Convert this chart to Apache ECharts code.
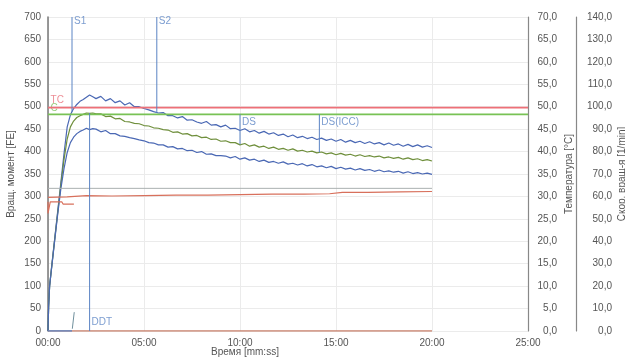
<!DOCTYPE html>
<html><head><meta charset="utf-8">
<script src="https://cdn.jsdelivr.net/npm/echarts@6/dist/echarts.min.js"></script>
<style>html,body{margin:0;padding:0;background:#fff}#c{width:625px;height:360px}</style>
</head><body><div id="c"></div>
<script>
// time in seconds
const times = [0,2,5,10,20,30,40,50,60,70,80,90,100,110,120,130,140,
150,165,180,195,210,225,240,255,270,285,300,315,330,345,360,375,390,405,420,435,450,465,480,495,510,525,540,555,570,585,600,615,630,645,660,675,690,705,720,735,750,765,780,795,810,825,840,855,870,885,900,915,930,945,960,975,990,1005,1020,1035,1050,1065,1080,1095,1110,1125,1140,1155,1170,1185,1200];
const torqueUpper = [0,55,100,135,200,265,330,395,455,482,496,505,512,516,521,526,522,
518,523,513,518,509,513,504,509,500,500,496,493,489,486,487,480,480,475,478,470,471,466,463,467,459,460,455,459,451,452,447,451,444,447,441,445,439,442,436,439,433,437,431,434,429,432,427,430,425,428,423,427,421,425,420,423,418,422,417,420,415,419,414,417,412,416,411,415,410,413,409];
const torqueMid = [0,55,100,133,198,262,325,382,428,455,468,476,480,483,486,485,486,
484,484,478,479,473,474,467,466,463,462,458,457,453,452,449,448,443,444,439,440,435,436,431,432,427,428,423,424,420,420,415,418,412,415,410,412,407,410,405,407,403,406,401,403,399,401,397,399,395,397,393,396,392,394,390,393,389,391,388,390,386,388,385,387,383,386,382,384,380,382,379];
const torqueLower = [0,55,100,132,196,258,316,362,398,420,432,440,445,448,452,449,451,
450,444,447,440,440,435,434,431,429,426,424,420,419,415,415,410,411,406,407,402,403,398,400,394,395,391,391,390,386,389,383,386,381,383,378,381,376,378,374,377,372,374,370,373,368,371,366,368,364,367,362,365,361,363,359,362,358,360,356,359,355,357,354,356,352,355,351,353,350,352,349];
// temperature [°C]
const tempTimes = [0,60,120,200,300,400,500,600,700,800,880,920,1000,1100,1200];
const tempValues = [29.8,29.9,30.2,30.1,30.2,30.3,30.3,30.4,30.5,30.5,30.6,30.9,30.9,31.0,31.1];
const stockTimes = [0,0,6,7,43,47,81];
const stockValues = [28.8,26.2,26.2,28.8,28.8,28.3,28.3];
const tempRef = 31.8;
const levelTC = 498, levelC = 483;
// markers: name, time, from, to, label value
const markers = [
  {name:'S1', t:75, y0:700, y1:488, ly:691},
  {name:'S2', t:340, y0:700, y1:486, ly:691},
  {name:'DDT', t:130, y0:0, y1:486, ly:20},
  {name:'DS', t:600, y0:483, y1:416, ly:465},
  {name:'DS(ICC)', t:848, y0:483, y1:398, ly:465}
];
const zip = (a,b)=>a.map((v,i)=>[v,b[i]]);
const blue='#4a68b4', green='#6f8f3c', markerCol='#5b84c4', txt='#555', font='Liberation Sans';
const pad=n=>String(n).padStart(2,'0');
const series = [
  {type:'line', data:zip(times,torqueUpper), color:blue, lineStyle:{width:1.2}},
  {type:'line', data:zip(times,torqueMid), color:green, lineStyle:{width:1.2}},
  {type:'line', data:zip(times,torqueLower), color:blue, lineStyle:{width:1.2}},
  {type:'line', data:[[0,levelTC],[1500,levelTC]], color:'#ee7078', lineStyle:{width:1.6}},
  {type:'line', data:[[0,levelC],[1500,levelC]], color:'#78c255', lineStyle:{width:1.6}},
  {type:'line', yAxisIndex:1, data:zip(tempTimes,tempValues), color:'#d8705c', lineStyle:{width:1.2}},
  {type:'line', yAxisIndex:1, data:[[0,tempRef],[1200,tempRef]], color:'#aab0b0', lineStyle:{width:1}},
  {type:'line', yAxisIndex:1, data:zip(stockTimes,stockValues), color:'#d8705c', lineStyle:{width:1.2}},
  {type:'line', yAxisIndex:2, data:[[0,0],[1200,0]], color:'#c9826e', lineStyle:{width:1.4}},
  {type:'line', data:[[0,0],[75,0]], color:markerCol, lineStyle:{width:1.4}},
  {type:'line', data:[[76,5],[82,42]], color:'#6f8f9c', lineStyle:{width:1}},
];
markers.forEach(m=>{
  series.push({type:'line', data:[[m.t,m.y0],[m.t,m.y1]], color:markerCol, lineStyle:{width:1}});
  series.push({type:'scatter', symbolSize:0, data:[[m.t,m.ly]], label:{show:true, formatter:m.name, position:'right', distance:2, color:markerCol, fontFamily:font, fontSize:10}});
});
series.push({type:'scatter', symbolSize:0, data:[[8,515]], label:{show:true, formatter:'TC', position:'right', distance:0, color:'#e8707a', fontFamily:font, fontSize:10}});
series.push({type:'scatter', symbolSize:0, data:[[8,497]], label:{show:true, formatter:'C', position:'right', distance:0, color:'#7cbf5a', fontFamily:font, fontSize:10}});
series.forEach(s=>{ if(s.type==='line'){ s.showSymbol=false; s.symbol='none'; } s.silent=true; s.animation=false; });

const chart = echarts.init(document.getElementById('c'));
chart.setOption({
  animation:false,
  grid:{left:48, right:97, top:17, bottom:29, containLabel:false, outerBoundsMode:'none'},
  xAxis:{type:'value', min:0, max:1500, interval:300,
    name:'Время [mm:ss]', nameLocation:'middle', nameGap:16, nameMoveOverlap:false,
    nameTextStyle:{color:txt, fontFamily:font, fontSize:10, padding:[0,86,0,0]},
    axisLine:{show:false}, axisTick:{show:false},
    axisLabel:{color:txt, fontFamily:font, fontSize:10, margin:7, formatter:v=>pad(Math.floor(v/60))+':'+pad(v%60)},
    splitLine:{show:true, lineStyle:{color:'#ebebeb'}}},
  yAxis:[
    {type:'value', min:0, max:700, interval:50, name:'Вращ. момент [FE]', nameLocation:'middle', nameGap:32, nameMoveOverlap:false,
      nameTextStyle:{color:txt, fontFamily:font, fontSize:10},
      axisLine:{show:true, lineStyle:{color:'#777', width:1.5}}, axisTick:{show:false},
      axisLabel:{color:txt, fontFamily:font, fontSize:10, margin:7},
      splitLine:{show:true, lineStyle:{color:'#ebebeb'}}},
    {type:'value', position:'right', offset:0, min:0, max:70, interval:5, name:'Температура [°C]', nameLocation:'middle', nameGap:36, nameMoveOverlap:false,
      nameTextStyle:{color:txt, fontFamily:font, fontSize:10},
      axisLine:{show:true, lineStyle:{color:'#888', width:1.2}}, axisTick:{show:false},
      axisLabel:{color:txt, fontFamily:font, fontSize:10, margin:29, align:'right', formatter:v=>v.toFixed(1).replace('.',',')},
      splitLine:{show:false}},
    {type:'value', position:'right', offset:48, min:0, max:140, interval:10, name:'Скор. вращ-я [1/min]', nameLocation:'middle', nameGap:41, nameMoveOverlap:false,
      nameTextStyle:{color:txt, fontFamily:font, fontSize:10},
      axisLine:{show:true, lineStyle:{color:'#888', width:1.2}}, axisTick:{show:false},
      axisLabel:{color:txt, fontFamily:font, fontSize:10, margin:36, align:'right', formatter:v=>v.toFixed(1).replace('.',',')},
      splitLine:{show:false}}
  ],
  series:series
});
</script></body></html>
